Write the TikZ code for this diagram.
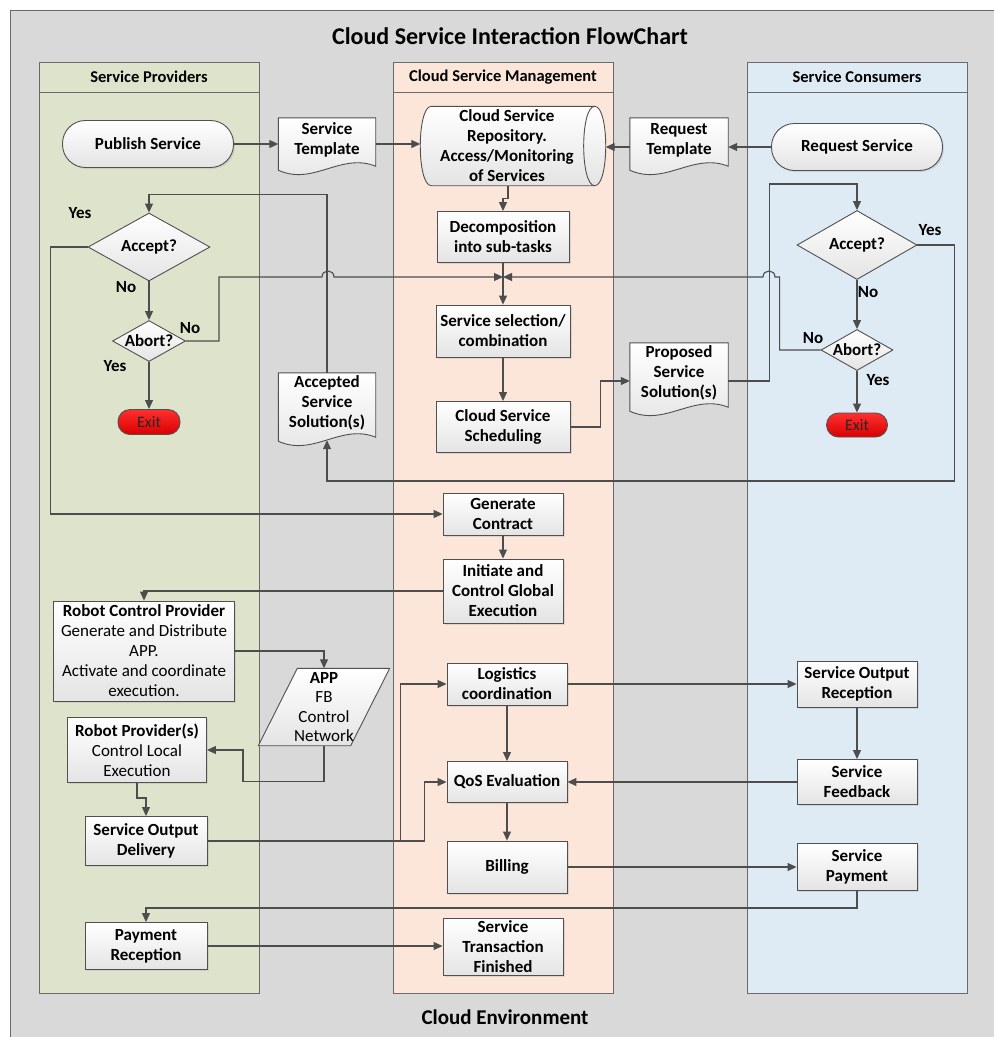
\documentclass[tikz,border=0pt]{standalone}
\usepackage{fontspec}
\setmainfont{Carlito}
\usetikzlibrary{arrows.meta,shapes.geometric,shadows}
\pgfdeclarelayer{back}
\pgfdeclarelayer{mid}
\pgfsetlayers{back,mid,main}

\definecolor{bggray}{HTML}{D9D9D9}
\definecolor{provgreen}{HTML}{DEE4CC}
\definecolor{mgmtpeach}{HTML}{FBE6D9}
\definecolor{consblue}{HTML}{DEEAF4}
\definecolor{lanegray}{HTML}{6A6A6A}
\definecolor{linegray}{HTML}{505050}
\definecolor{flowgray}{HTML}{4D4D4D}
\definecolor{boxgray}{HTML}{E4E4E4}
\definecolor{exitlight}{HTML}{FF3030}
\definecolor{exitdark}{HTML}{D80000}

% outline of a document shape (flat top, wavy bottom) behind node #1
\newcommand{\docoutline}[1]{%
  \begin{pgfonlayer}{mid}
    \path[docshape] (#1.north west) -- (#1.north east) -- ([yshift=-4pt]#1.south east)
      .. controls +(-35,-14) and +(35,16) .. ([yshift=-8pt]#1.south west) -- cycle;
  \end{pgfonlayer}}

\begin{document}
\begin{tikzpicture}[x=1pt, y=-1pt, >={Triangle[length=9pt,width=8pt]},
  font=\fontsize{17}{20}\selectfont\bfseries,
  box/.style={draw=linegray, line width=0.9pt, top color=white, bottom color=boxgray,
    align=center, inner sep=1pt, minimum width=120pt, minimum height=42pt,
    drop shadow={shadow xshift=1.5pt, shadow yshift=-1.5pt, opacity=0.2}},
  term/.style={box, rounded corners=23pt, minimum width=171pt, minimum height=47pt},
  dia/.style={diamond, aspect=1.8, draw=linegray, line width=0.9pt, top color=white,
    bottom color=boxgray, inner sep=0pt},
  exitbox/.style={draw=linegray, line width=0.9pt, rounded corners=12pt, top color=exitlight,
    bottom color=exitdark, minimum width=62pt, minimum height=25pt, inner sep=0pt,
    font=\fontsize{16}{18}\selectfont, text=black!85},
  plain/.style={draw=none, align=center, inner sep=0pt},
  docshape/.style={draw=linegray, line width=0.9pt, top color=white, bottom color=boxgray},
  flow/.style={draw=flowgray, line width=1.1pt},
  lbl/.style={inner sep=1pt}]

\useasboundingbox (0,0) rectangle (994,1037);

% background and swim lanes
\begin{pgfonlayer}{back}
  \fill[bggray] (10,10) rectangle (1000,1045);
  \draw[lanegray, line width=1pt] (10,1045) -- (10,10) -- (1000,10);
  \foreach \x/\col/\name in {39/provgreen/Service Providers,
      393/mgmtpeach/Cloud Service Management, 747/consblue/Service Consumers} {
    \filldraw[fill=\col, draw=lanegray, line width=1pt] (\x,62) rectangle ++(220,931);
    \draw[lanegray, line width=1pt] (\x,92) -- ++(220,0);
    \node[font=\fontsize{16.5}{18}\selectfont\bfseries] at (\x+110,77) {\name};
  }
\end{pgfonlayer}
\node[font=\fontsize{24}{27}\selectfont\bfseries] (title) at (510,36) {Cloud Service Interaction FlowChart};
\node[font=\fontsize{21}{24}\selectfont\bfseries] (env) at (505,1017) {Cloud Environment};

% templates and repository
\node[term] (pub) at (148,144) {Publish Service};
\node[plain, minimum width=97pt, minimum height=44pt] (tpl) at (327,140) {Service\\Template};
\docoutline{tpl}
\node[plain, minimum width=173pt, minimum height=79pt] (repo) at (507,146)
  {Cloud Service\\Repository.\\Access/Monitoring\\of Services};
\begin{pgfonlayer}{mid}
  \path[docshape] ([xshift=11pt]repo.north west) -- ([xshift=1pt]repo.north east)
    .. controls +(14.7,0) and +(14.7,0) .. ([xshift=1pt]repo.south east)
    -- ([xshift=11pt]repo.south west)
    .. controls +(-14.7,0) and +(-14.7,0) .. ([xshift=11pt]repo.north west) -- cycle;
  \draw[linegray, line width=0.9pt] ([xshift=1pt]repo.north east)
    .. controls +(-14.7,0) and +(-14.7,0) .. ([xshift=1pt]repo.south east);
\end{pgfonlayer}
\node[plain, minimum width=98pt, minimum height=44pt] (rtp) at (679,140) {Request\\Template};
\docoutline{rtp}
\node[term] (req) at (857,147) {Request Service};
\draw[flow,->] (pub.east) -- (pub.east -| tpl.west);
\draw[flow,->] (tpl.east |- pub) -- (pub -| repo.west);
\draw[flow,->] (req.west) -- (req.west -| rtp.east);
\draw[flow,->] (rtp.west |- req) -- ([xshift=12pt]req -| repo.east);

% service composition
\node[box, minimum width=132pt, minimum height=51pt] (dec) at (503,237) {Decomposition\\into sub-tasks};
\draw[flow,->] ([xshift=1pt]repo.south) -- ++(0,13) -| (dec.north);
\coordinate (mrg) at (503,277);
\coordinate (hopL) at (328,277);
\coordinate (hopR) at (769,277);
\node[box, minimum width=134pt, minimum height=52pt] (sel) at (503,331) {Service selection/\\combination};
\draw[flow,->] (dec) -- (sel);
\node[box, minimum width=134pt, minimum height=51pt] (sch) at (503,427) {Cloud Service\\Scheduling};
\draw[flow,->] (sel) -- (sch);
\node[plain, minimum width=98pt, minimum height=60pt] (psol) at (679,373) {Proposed\\Service\\Solution(s)};
\docoutline{psol}
\draw[flow,->] (sch.east) -- ++(30,0) |- ([yshift=-8pt]psol.west);
\node[plain, minimum width=97pt, minimum height=60pt] (asol) at (327,403) {Accepted\\Service\\Solution(s)};
\docoutline{asol}

% consumer decision
\node[dia, minimum width=120pt, minimum height=69pt] (acc2) at (857,245) {Accept?};
\draw[flow,->] ([yshift=-8pt]psol.east) -- ++(41,0) -- ++(0,-197) -| (acc2.north);
\node[dia, minimum width=72pt, minimum height=41pt, inner sep=-5pt] (abt2) at (857,350) {Abort?};
\draw[flow,->] (acc2) -- (abt2);
\node[exitbox, minimum width=61pt, minimum height=24pt] (exit2) at (857,425) {Exit};
\draw[flow,->] (abt2) -- (exit2);
\draw[flow,->] (abt2.west) -- ++(-41,0) |- ([xshift=6pt]hopR)
  .. controls +(0,-8) and +(0,-8) .. ([xshift=-6pt]hopR) -- (mrg);
\draw[flow,->] (acc2.east) -- ++(37,0) -- ++(0,236) -| ([yshift=-7pt]asol.south);
\node[lbl] at (930,230) {Yes};
\node[lbl] at (868,292) {No};
\node[lbl] at (813,338) {No};
\node[lbl] at (878,380) {Yes};

% provider decision
\node[dia, minimum width=122pt, minimum height=68pt] (acc1) at (149,247) {Accept?};
\draw[flow,->] (asol.north) -- ++(0,-178) -| (acc1.north);
\node[dia, minimum width=73pt, minimum height=41pt, inner sep=-5pt] (abt1) at (149,341) {Abort?};
\draw[flow,->] (acc1) -- (abt1);
\node[exitbox] (exit1) at (149,422) {Exit};
\draw[flow,->] (abt1) -- (exit1);
\draw[flow,->] (abt1.east) -- ++(33,0) |- ([xshift=-6pt]hopL)
  .. controls +(0,-8) and +(0,-8) .. ([xshift=6pt]hopL) -- (mrg);
\node[lbl] at (80,213) {Yes};
\node[lbl] at (126,287) {No};
\node[lbl] at (190,328) {No};
\node[lbl] at (115,366) {Yes};

% contract and execution
\node[box] (gen) at (503,514) {Generate\\Contract};
\draw[flow,->] (acc1.west) -- ++(-37,0) |- (gen.west);
\node[box, minimum height=64pt] (ini) at (503,591) {Initiate and\\Control Global\\Execution};
\draw[flow,->] (gen) -- (ini);
\node[box, minimum width=181pt, minimum height=100pt, inner ysep=0pt] (rcp) at (144,651)
  {Robot Control Provider\\\mdseries Generate and Distribute\\\mdseries APP.\\\mdseries Activate and coordinate\\\mdseries execution.};
\draw[flow,->] (ini.west) -| (rcp.north);
\node[plain, minimum width=131pt, minimum height=77pt,
  font=\fontsize{17}{19.5}\selectfont\bfseries] (app) at (324,707)
  {APP\\\mdseries FB\\\mdseries Control\\\mdseries Network};
\begin{pgfonlayer}{mid}
  \path[docshape] ([xshift=39pt]app.north west) -- (app.north east)
    -- ([xshift=-39pt]app.south east) -- (app.south west) -- cycle;
\end{pgfonlayer}
\draw[flow,->] (rcp.east) -| (app.north);
\node[box, minimum width=139pt, minimum height=65pt] (rpr) at (137,750)
  {Robot Provider(s)\\\mdseries Control Local\\\mdseries Execution};
\draw[flow,->] (app.south) -- ++(0,36) -- ++(-81,0) |- (rpr.east);
\node[box, minimum width=122pt, minimum height=49pt] (sod) at (146,841) {Service Output\\Delivery};
\draw[flow,->] (rpr.south) -- ++(0,15) -| (sod.north);

% delivery, evaluation and billing
\node[box] (log) at (507,684) {Logistics\\coordination};
\node[box, minimum height=41pt] (qos) at (507,782) {QoS Evaluation};
\draw[flow,->] (sod.east) -- ++(193,0) |- (log.west);
\draw[flow,->] (sod.east) -- ++(217,0) |- (qos.west);
\draw[flow,->] (log) -- (qos);
\node[box, minimum height=46pt] (sor) at (857,684) {Service Output\\Reception};
\draw[flow,->] (log) -- (sor);
\node[box, minimum height=45pt] (sfb) at (857,782) {Service\\Feedback};
\draw[flow,->] (sor) -- (sfb);
\draw[flow,->] (sfb) -- (qos);
\node[box, minimum height=52pt] (bil) at (507,867) {Billing};
\draw[flow,->] (qos) -- (bil);
\node[box, minimum height=47pt] (spy) at (857,867) {Service\\Payment};
\draw[flow,->] (bil) -- (spy);
\node[box, minimum width=122pt, minimum height=47pt] (prc) at (146,946) {Payment\\Reception};
\draw[flow,->] (spy.south) -- ++(0,17) -| (prc.north);
\node[box, minimum height=57pt] (fin) at (503,947) {Service\\Transaction\\Finished};
\draw[flow,->] (prc.east) -- (prc.east -| fin.west);
\end{tikzpicture}
\end{document}
